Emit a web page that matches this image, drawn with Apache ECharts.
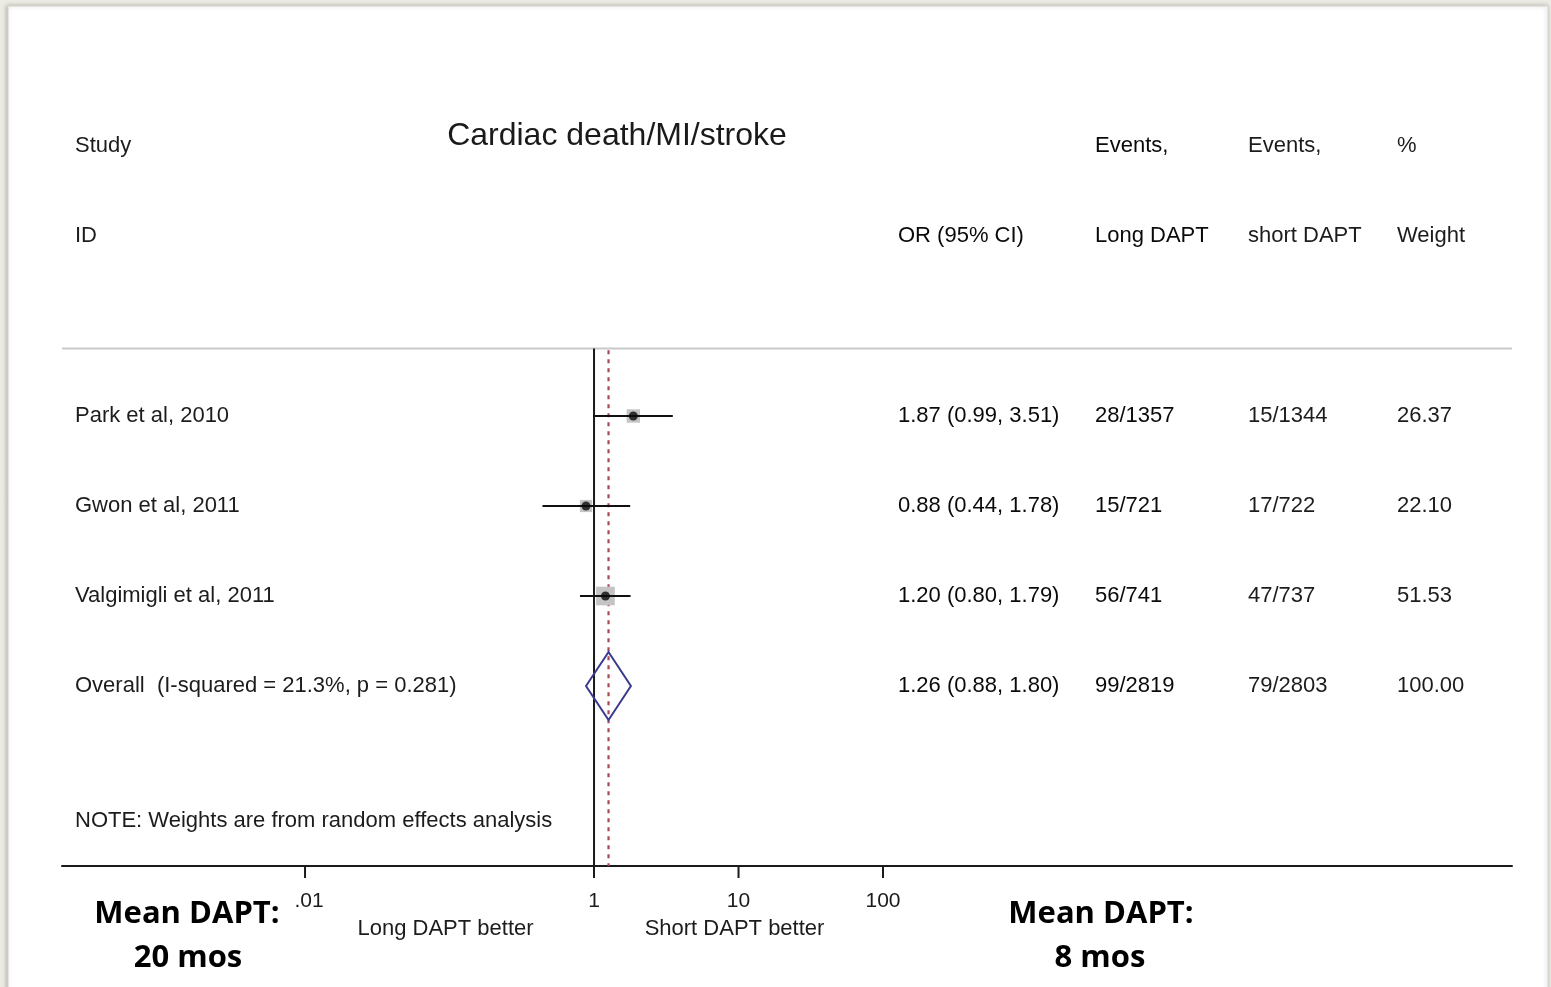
<!DOCTYPE html>
<html><head><meta charset="utf-8">
<script src="https://cdn.jsdelivr.net/npm/echarts@6/dist/echarts.min.js"></script>
<style>html,body{margin:0;padding:0;background:#ecebe3;overflow:hidden}#c{width:1551px;height:987px}</style>
</head><body><div id="c"></div>
<script>
// ---------- data ----------
const studies = ['Park et al, 2010', 'Gwon et al, 2011', 'Valgimigli et al, 2011'];
const orEst = [1.87, 0.88, 1.20];
const ciLow = [0.99, 0.44, 0.80];
const ciHigh = [3.51, 1.78, 1.79];
const eventsLong = ['28/1357', '15/721', '56/741'];
const eventsShort = ['15/1344', '17/722', '47/737'];
const weights = [26.37, 22.10, 51.53];
const overallLabel = 'Overall  (I-squared = 21.3%, p = 0.281)';
const overallEst = [1.26];
const overallLow = [0.88];
const overallHigh = [1.80];
const overallEventsLong = ['99/2819'];
const overallEventsShort = ['79/2803'];
const overallWeight = [100.00];
const noteText = 'NOTE: Weights are from random effects analysis';
const tickValues = [0.01, 1, 10, 100];
const tickLabels = ['.01', '1', '10', '100'];
const favourLabels = ['Long DAPT better', 'Short DAPT better'];
const headerTop = ['Study', '', 'Events,', 'Events,', '%'];
const headerBottom = ['ID', 'OR (95% CI)', 'Long DAPT', 'short DAPT', 'Weight'];
const plotTitle = 'Cardiac death/MI/stroke';

// ---------- layout ----------
const FONT = '"Liberation Sans", Arial, sans-serif';
const colX = [75, 898, 1095, 1248, 1397];
const colColor = ['#1c1c1c', '#0a0a0a', '#0a0a0a', '#1c1c1c', '#1c1c1c'];
const Y_MIN = -2.5, Y_MAX = 6, SEP_Y = 0.25;
const fmtOR = (e, l, h) => `${e.toFixed(2)} (${l.toFixed(2)}, ${h.toFixed(2)})`;

const nS = studies.length;
const tableRows = [
  { y: -2, cells: headerTop },
  { y: -1, cells: headerBottom },
  ...studies.map((s, i) => ({ y: i + 1, cells: [s, fmtOR(orEst[i], ciLow[i], ciHigh[i]), eventsLong[i], eventsShort[i], weights[i].toFixed(2)] })),
  { y: nS + 1, cells: [overallLabel, fmtOR(overallEst[0], overallLow[0], overallHigh[0]), overallEventsLong[0], overallEventsShort[0], overallWeight[0].toFixed(2)] },
  { y: nS + 2.5, cells: [noteText, '', '', '', ''] }
];
const studyRows = studies.map((s, i) => i + 1);

const chart = echarts.init(document.getElementById('c'), null, { renderer: 'canvas' });

const txt = (x, y, text, size, align, color, weight, family) => ({
  type: 'text', x, y,
  style: { text, fontSize: size, fontFamily: family || FONT, fontWeight: weight || 'normal', fill: color || '#222', align: align || 'left', verticalAlign: 'middle' }
});

chart.setOption({
  backgroundColor: '#ecebe3',
  animation: false,
  title: {
    text: plotTitle, left: 617, top: 118, textAlign: 'center', padding: 0,
    textStyle: { fontFamily: FONT, fontSize: 32, fontWeight: 'normal', color: '#1a1a1a', lineHeight: 36 }
  },
  graphic: [
    { type: 'rect', z: -10, shape: { x: 8, y: 6, width: 1540, height: 1000 },
      style: { fill: '#ffffff', stroke: '#d6d6d0', lineWidth: 1, shadowBlur: 4, shadowColor: 'rgba(0,0,0,0.25)', shadowOffsetX: -1, shadowOffsetY: 0 } },
    { type: 'group', children: [
      txt(187, 914, 'Mean DAPT:', 31, 'center', '#000', 'bold', '"Open Sans", sans-serif'),
      txt(188, 958, '20 mos', 31, 'center', '#000', 'bold', '"Open Sans", sans-serif'),
      txt(1101, 914, 'Mean DAPT:', 31, 'center', '#000', 'bold', '"Open Sans", sans-serif'),
      txt(1100, 958, '8 mos', 31, 'center', '#000', 'bold', '"Open Sans", sans-serif')
    ] }
  ],
  grid: { left: 62, right: 39, top: 101, bottom: 121, containLabel: false },
  xAxis: {
    type: 'log', logBase: 10, min: 0.000208, max: 2254000,
    axisLine: { show: true, onZero: false, lineStyle: { color: '#1a1a1a', width: 2 } },
    axisTick: { show: false }, axisLabel: { show: false }, splitLine: { show: false }
  },
  yAxis: { type: 'value', inverse: true, min: Y_MIN, max: Y_MAX, show: false },
  series: [
    // separator line under header
    { type: 'custom', z: 1, data: [[1, SEP_Y]],
      renderItem: (p, api) => {
        const y = api.coord([1, SEP_Y])[1];
        const cs = p.coordSys;
        return { type: 'line', shape: { x1: cs.x, y1: y, x2: cs.x + cs.width, y2: y }, style: { stroke: '#c9c9c9', lineWidth: 2 } };
      } },
    // null line at OR = 1
    { type: 'custom', z: 2, data: [[1, SEP_Y]],
      renderItem: (p, api) => {
        const a = api.coord([api.value(0), SEP_Y]), b = api.coord([api.value(0), Y_MAX]);
        return { type: 'line', shape: { x1: a[0], y1: a[1], x2: b[0], y2: b[1] }, style: { stroke: '#1a1a1a', lineWidth: 2 } };
      } },
    // overall estimate dashed line
    { type: 'custom', z: 2, data: [[overallEst[0], SEP_Y]],
      renderItem: (p, api) => {
        const a = api.coord([api.value(0), SEP_Y + 0.02]), b = api.coord([api.value(0), Y_MAX]);
        return { type: 'line', shape: { x1: a[0], y1: a[1], x2: b[0], y2: b[1] }, style: { stroke: '#a94857', lineWidth: 2.2, lineDash: [4, 5] } };
      } },
    // weight boxes
    { type: 'scatter', z: 3, symbol: 'rect',
      data: orEst.map((v, i) => [v, studyRows[i]]),
      symbolSize: (val, p) => 2.6 * Math.sqrt(weights[p.dataIndex]),
      itemStyle: { color: '#c4c4c4', opacity: 1 } },
    // confidence intervals
    { type: 'custom', z: 4,
      data: ciLow.map((l, i) => [l, studyRows[i], ciHigh[i]]),
      renderItem: (p, api) => {
        const a = api.coord([api.value(0), api.value(1)]), b = api.coord([api.value(2), api.value(1)]);
        return { type: 'line', shape: { x1: a[0], y1: a[1], x2: b[0], y2: b[1] }, style: { stroke: '#111', lineWidth: 2 } };
      } },
    // point estimates
    { type: 'scatter', z: 5, symbol: 'circle', symbolSize: 9,
      data: orEst.map((v, i) => [v, studyRows[i]]),
      itemStyle: { color: '#0a0a0a' } },
    // overall diamond
    { type: 'custom', z: 5,
      data: [[overallEst[0], nS + 1, overallLow[0], overallHigh[0]]],
      renderItem: (p, api) => {
        const c = api.coord([api.value(0), api.value(1)]);
        const l = api.coord([api.value(2), api.value(1)]);
        const r = api.coord([api.value(3), api.value(1)]);
        const h = 34;
        return { type: 'polygon', shape: { points: [[l[0], c[1]], [c[0], c[1] - h], [r[0], c[1]], [c[0], c[1] + h]] },
          style: { fill: 'none', stroke: '#3a3a8e', lineWidth: 2 } };
      } },
    // table text
    { type: 'custom', z: 6,
      data: tableRows.map(r => [1, r.y]),
      renderItem: (p, api) => {
        const row = tableRows[p.dataIndex];
        const y = api.coord([1, api.value(1)])[1];
        return { type: 'group', children: row.cells.map((t, c) => txt(colX[c], y, t, 22, 'left', colColor[c])) };
      } },
    // axis ticks and labels
    { type: 'custom', z: 6,
      data: tickValues.map(v => [v, Y_MAX]),
      renderItem: (p, api) => {
        const pt = api.coord([api.value(0), api.value(1)]);
        return { type: 'group', children: [
          { type: 'line', shape: { x1: pt[0], y1: pt[1], x2: pt[0], y2: pt[1] + 12 }, style: { stroke: '#1a1a1a', lineWidth: 2 } },
          txt(pt[0] + (p.dataIndex === 0 ? 4 : 0), pt[1] + 35, tickLabels[p.dataIndex], 21, 'center', '#1c1c1c')
        ] };
      } },
    // favours labels
    { type: 'custom', z: 6,
      data: [[Math.sqrt(tickValues[0] * 1), Y_MAX], [Math.sqrt(1 * tickValues[tickValues.length - 1]), Y_MAX]],
      renderItem: (p, api) => {
        const pt = api.coord([api.value(0), api.value(1)]);
        return txt(pt[0] - 4, pt[1] + 63, favourLabels[p.dataIndex], 22, 'center', '#1c1c1c');
      } }
  ]
});
</script>
</body></html>
